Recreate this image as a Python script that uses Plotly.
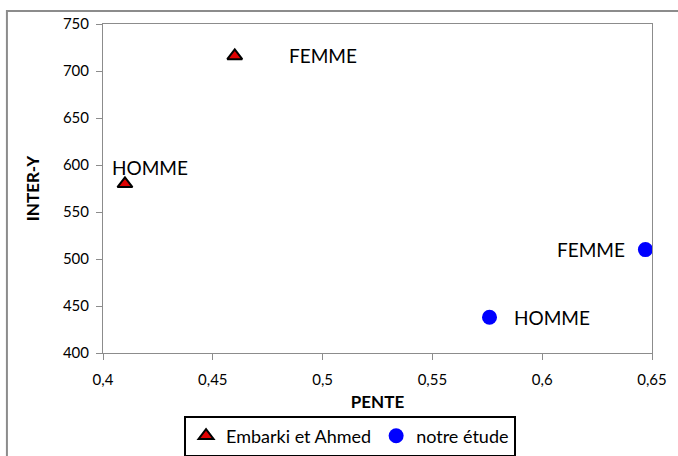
import plotly.graph_objects as go

# Data
series_names = ["Embarki et Ahmed", "notre étude"]
emb_x = [0.46, 0.41]
emb_y = [716, 580]
emb_labels = ["FEMME", "HOMME"]
etu_x = [0.647, 0.576]
etu_y = [510, 438]
etu_labels = ["FEMME", "HOMME"]
x_ticks = [0.4, 0.45, 0.5, 0.55, 0.6, 0.65]
x_ticktext = ["0,4", "0,45", "0,5", "0,55", "0,6", "0,65"]
y_ticks = [400, 450, 500, 550, 600, 650, 700, 750]

FONT = "Lato, 'Open Sans', sans-serif"

fig = go.Figure()
fig.add_trace(go.Scatter(
    x=emb_x, y=emb_y, mode="markers", name=series_names[0],
    marker=dict(symbol="triangle-up", size=13, color="#E00000",
                line=dict(color="black", width=2)),
))
fig.add_trace(go.Scatter(
    x=etu_x, y=etu_y, mode="markers", name=series_names[1],
    marker=dict(symbol="circle", size=15, color="#0000FF",
                line=dict(width=0)),
))

# point labels
label_specs = [
    (emb_x[0], emb_y[0], emb_labels[0], "left", 52, 0),
    (emb_x[1], emb_y[1], emb_labels[1], "center", 25, -16),
    (etu_x[0], etu_y[0], etu_labels[0], "right", -18, 0),
    (etu_x[1], etu_y[1], etu_labels[1], "left", 22, 0),
]
for x, y, t, anchor, dx, dy in label_specs:
    fig.add_annotation(x=x, y=y, text=t, showarrow=False, xanchor=anchor,
                       yanchor="middle", xshift=dx, yshift=-dy,
                       font=dict(family=FONT, size=19, color="black"))

# outer frame
fig.add_shape(type="rect", xref="paper", yref="paper",
              x0=-0.175, y0=-0.33, x1=1.08, y1=1.0395,
              line=dict(color="#8c8c8c", width=2), layer="below")

fig.update_layout(
    width=678, height=456,
    margin=dict(l=103, r=26, t=24, b=103, autoexpand=False),
    paper_bgcolor="white", plot_bgcolor="white",
    font=dict(family=FONT, size=15, color="black"),
    showlegend=True,
    legend=dict(orientation="h", x=0.45, y=-0.19, xanchor="center",
                yanchor="top", bordercolor="black", borderwidth=2,
                font=dict(family=FONT, size=18, color="black"),
                itemwidth=30, tracegroupgap=0),
)
fig.update_xaxes(
    range=[0.4, 0.65], tickvals=x_ticks, ticktext=x_ticktext, automargin=False,
    showgrid=False, zeroline=False, showline=True, linecolor="#8c8c8c",
    linewidth=1, mirror=True, ticks="outside", ticklen=6, tickcolor="#8c8c8c",
    ticklabelstandoff=7,
    title=dict(text="<b>PENTE</b>", font=dict(family=FONT, size=17), standoff=9),
)
fig.update_yaxes(
    range=[400, 750], tickvals=y_ticks, automargin=False,
    showgrid=False, zeroline=False, showline=True, linecolor="#8c8c8c",
    linewidth=1, mirror=True, ticks="outside", ticklen=6, tickcolor="#8c8c8c",
    ticklabelstandoff=4,
    title=dict(text="<b>INTER-Y</b>", font=dict(family=FONT, size=17), standoff=18),
)

fig.write_html("out.html", config={"displayModeBar": False},
               post_script="document.body.style.margin='0';")
